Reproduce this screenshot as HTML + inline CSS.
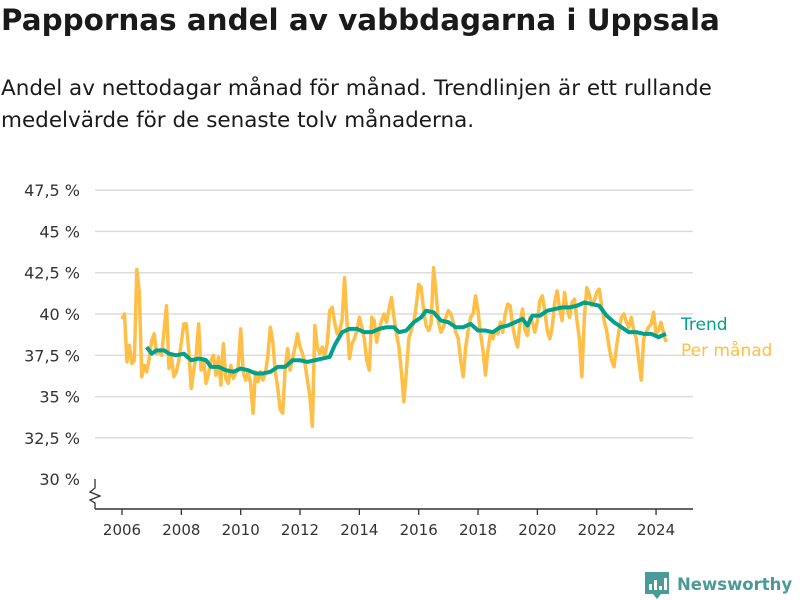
<!DOCTYPE html>
<html><head><meta charset="utf-8"><style>
body{margin:0;width:800px;height:600px;background:#fff;font-family:"DejaVu Sans","Liberation Sans",sans-serif;overflow:hidden;position:relative}
.t{position:absolute;left:1px;top:3px;font-size:29.4px;font-weight:bold;color:#1a1a1a;white-space:nowrap}
.s{position:absolute;left:1px;top:73px;font-size:21.5px;line-height:32px;color:#1a1a1a;white-space:nowrap}
svg text{font-family:"DejaVu Sans","Liberation Sans",sans-serif}
</style></head><body>
<div class="t">Pappornas andel av vabbdagarna i Uppsala</div>
<div class="s">Andel av nettodagar månad för månad. Trendlinjen är ett rullande<br>medelvärde för de senaste tolv månaderna.</div>
<svg id="c" width="800" height="600" style="position:absolute;left:0;top:0"></svg>
<script>
const yTicks=[30,32.5,35,37.5,40,42.5,45,47.5];
const yTickLabels=["30 %","32,5 %","35 %","37,5 %","40 %","42,5 %","45 %","47,5 %"];
const xTicks=[2006,2008,2010,2012,2014,2016,2018,2020,2022,2024];
const monthly=[39.7,40.0,37.1,38.1,37.0,37.2,42.7,41.3,36.2,36.9,36.5,37.3,
38.4,38.8,37.6,37.8,37.5,39.0,40.5,36.7,37.4,36.2,36.5,37.2,
38.3,39.4,39.4,37.8,35.5,36.6,37.5,39.4,36.6,37.3,35.8,36.4,
37.2,37.5,36.3,37.4,35.7,38.2,36.1,35.8,36.9,36.1,36.4,36.8,
39.1,36.5,36.0,36.5,35.8,34.0,36.5,35.9,36.5,36.0,36.4,37.5,
39.2,38.3,36.5,35.5,34.2,34.0,36.7,37.9,36.6,37.3,38.0,38.8,
38.0,37.6,37.0,36.0,35.0,33.2,39.3,38.0,37.6,38.0,37.4,38.2,
40.2,40.4,39.5,38.8,39.0,39.6,42.2,39.5,37.3,38.2,38.5,39.0,
39.8,39.2,38.5,37.2,36.6,39.8,39.6,38.3,39.0,39.6,40.0,39.5,
40.3,41.0,39.8,38.8,38.0,36.5,34.7,36.5,38.5,39.0,39.5,40.5,
41.8,41.6,40.2,39.3,39.0,39.4,42.8,41.3,39.5,38.9,39.2,39.8,
40.2,40.0,39.5,38.9,38.5,37.2,36.2,38.0,39.0,39.8,40.0,41.1,
40.2,38.8,37.8,36.3,37.8,38.8,38.5,39.0,38.8,39.5,38.9,40.0,
40.6,40.5,39.3,38.5,38.0,39.5,40.3,39.0,38.7,39.8,39.5,38.9,
39.6,40.8,41.1,40.2,39.0,38.5,39.2,40.7,41.4,40.3,39.6,41.3,
40.3,39.8,40.7,40.9,39.6,38.5,36.2,39.8,41.6,41.2,40.5,40.8,
41.3,41.5,40.5,39.6,39.0,38.0,37.2,36.8,38.0,39.0,39.8,40.0,
39.5,39.2,39.8,39.0,38.5,37.2,36.0,38.5,38.9,39.2,39.4,40.1,
38.8,39.0,39.5,38.9,38.3];
const trendMonth=[10,12,14,17,19,22,25,28,31,34,36,39,42,45,48,51,54,57,60,63,66,69,72,75,78,81,84,86,89,92,95,98,101,104,107,110,112,115,118,121,123,126,129,132,135,138,141,144,147,150,153,156,159,162,164,166,169,172,175,178,181,184,187,190,193,196,199,202,205,208,211,214,217,220];
const trendValues=[38.0,37.6,37.8,37.8,37.6,37.5,37.6,37.2,37.3,37.2,36.8,36.8,36.6,36.5,36.7,36.6,36.4,36.4,36.5,36.8,36.8,37.2,37.2,37.1,37.2,37.3,37.4,38.1,38.9,39.1,39.1,38.9,38.9,39.1,39.2,39.2,38.9,39.0,39.5,39.8,40.2,40.1,39.6,39.5,39.2,39.2,39.4,39.0,39.0,38.9,39.2,39.3,39.5,39.7,39.3,39.9,39.9,40.2,40.3,40.4,40.4,40.5,40.7,40.6,40.5,39.9,39.5,39.2,38.9,38.9,38.8,38.8,38.6,38.8];
const svg=document.getElementById('c'),NS='http://www.w3.org/2000/svg';
const Y=v=>314-(v-40)*16.52, X=yr=>122+(yr-2006)*29.67, XM=m=>122+m*29.67/12;
function mk(t,a,p){const e=document.createElementNS(NS,t);for(const k in a)e.setAttribute(k,a[k]);(p||svg).appendChild(e);return e;}
yTicks.forEach((v,i)=>{
 if(i>0){const g=mk('line',{x1:95,x2:693,y1:Y(v),y2:Y(v),stroke:'#dcdcdc','stroke-width':1.5});
 
 }
 const t=mk('text',{x:80,y:Y(v)+6,'text-anchor':'end','font-size':16,fill:'#333'});t.textContent=yTickLabels[i];
 
 
});
const ax=mk('line',{x1:95,x2:693,y1:509,y2:509,stroke:'#333','stroke-width':1.5});


const br=mk('path',{d:'M95 479 L95 488 L90 492 L100 496 L90 500 L95 503 L95 509',fill:'none',stroke:'#333','stroke-width':1.3});


xTicks.forEach(yr=>{
 mk('line',{x1:X(yr),x2:X(yr),y1:509,y2:515,stroke:'#333','stroke-width':1.3});
 const t=mk('text',{x:X(yr),y:535,'text-anchor':'middle','font-size':15,fill:'#333'});t.textContent=yr;
 
 
});
const pm=mk('polyline',{points:monthly.map((v,i)=>XM(i)+','+Y(v)).join(' '),fill:'none',stroke:'#ffbe45','stroke-width':3.5,'stroke-linejoin':'round'});


const tr=mk('polyline',{points:trendValues.map((v,i)=>XM(trendMonth[i])+','+Y(v)).join(' '),fill:'none',stroke:'#00a08f','stroke-width':4,'stroke-linejoin':'round'});


const l1=mk('text',{x:681,y:330,'font-size':17,fill:'#00a08f'});l1.textContent='Trend';


const l2=mk('text',{x:681,y:356,'font-size':17,fill:'#ffbe45'});l2.textContent='Per månad';


const lg=mk('g',{});


mk('path',{d:'M645 572 h24 v22 h-8 l-4 5 l-4 -5 h-8 z',fill:'#4a9a98'},lg);
[[649,584,3,6],[654,580,3,10],[659,586,3,4],[664,578,3,12]].forEach(r=>mk('rect',{x:r[0],y:r[1],width:r[2],height:r[3],fill:'#fff'},lg));
const lt=mk('text',{x:677,y:590,'font-size':16.5,'font-weight':'bold',fill:'#4a9a98'},lg);lt.textContent='Newsworthy';
</script>
</body></html>
